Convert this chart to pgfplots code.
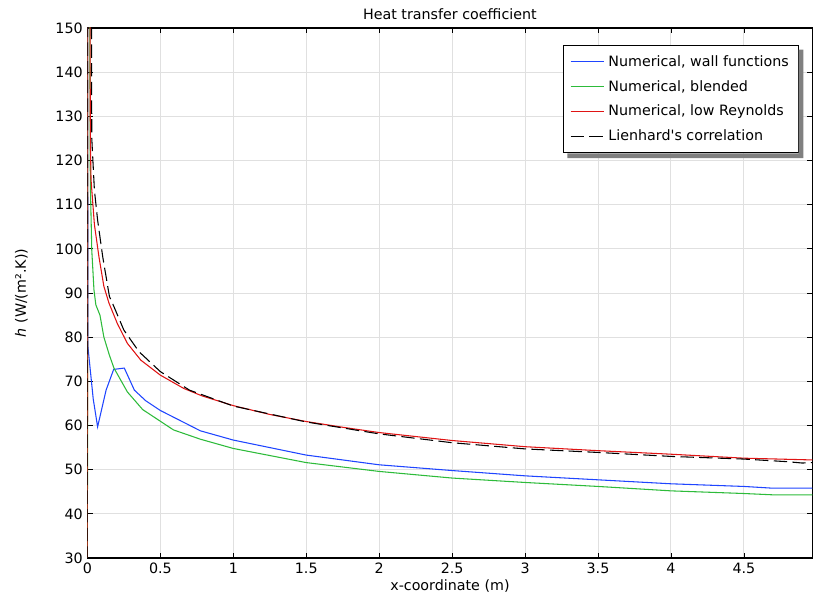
\documentclass[border=0pt]{standalone}
\usepackage{pgfplots}
\pgfplotsset{compat=1.18}
\usepackage{fontspec}
\setmainfont{DejaVu Sans}[Ligatures=TeXOff]
\definecolor{cBlue}{HTML}{1F45FF}
\definecolor{cGreen}{HTML}{2DBB3A}
\definecolor{cRed}{HTML}{E01414}

\begin{document}
\begin{tikzpicture}[x=0.75pt,y=0.75pt]
\begin{axis}[
  at={(0,0)}, anchor=south west,
  scale only axis,
  width=543.8pt, height=397.5pt,
  xmin=0, xmax=4.97, ymin=30, ymax=150,
  xtick={0,0.5,...,4.5},
  ytick={30,40,...,150},
  tick align=inside,
  major tick length=4pt,
  tick style={black, line width=0.6pt},
  axis line style={black, line width=0.9pt},
  xmajorgrids, ymajorgrids,
  grid style={draw=black!12, line width=0.7pt},
  font=\fontsize{10.7}{12.5}\selectfont,
  /pgf/number format/assume math mode=true,
  title={Heat transfer coefficient},
  title style={yshift=-3pt},
  xlabel={x-coordinate (m)},
  xlabel style={yshift=2pt},
  ylabel={\textit{h} (W/(m².K))},
  ylabel style={yshift=14pt},
  legend cell align=left,
  legend style={
    name=leg,
    at={(axis description cs:0.981,0.968)}, anchor=north east,
    draw=black, line width=0.8pt, fill=white,
    font=\fontsize{10.7}{12.5}\selectfont,
    inner xsep=5pt, inner ysep=5.5pt,
    row sep=5pt,
    /tikz/every odd column/.append style={column sep=1pt},
  },
  legend image code/.code={
    \draw[#1, line width=0.8pt] (0pt,0pt) -- (25pt,0pt);
  },
]
\addplot[cBlue, line width=0.8pt] coordinates {
 (0,200) (0.003,78) (0.04,66) (0.07,59.7) (0.128,68.0) (0.18,72.7)
 (0.253,73.0) (0.322,68.0) (0.4,65.6) (0.5,63.4) (0.774,58.8) (1.0,56.7)
 (1.5,53.3) (2.0,51.1) (2.5,49.8) (3.0,48.6) (3.5,47.7) (4.0,46.8)
 (4.5,46.2) (4.7,45.8) (4.97,45.8)
};
\addlegendentry{Numerical, wall functions}
\addplot[cGreen, line width=0.8pt] coordinates {
 (0,0) (0.003,300) (0.02,115) (0.03,99.7) (0.045,90.7) (0.058,87.3)
 (0.086,85.0) (0.113,80.0) (0.15,76.0) (0.182,73.0) (0.274,67.6)
 (0.379,63.6) (0.59,59.0) (0.774,56.9) (1.0,54.8) (1.5,51.6) (2.0,49.6)
 (2.5,48.1) (3.0,47.1) (3.5,46.2) (4.0,45.2) (4.5,44.6) (4.7,44.3)
 (4.97,44.3)
};
\addlegendentry{Numerical, blended}
\addplot[cRed, line width=0.8pt] coordinates {
 (0,0) (0.003,400) (0.02,125) (0.025,115.6) (0.048,105.5) (0.08,98.0)
 (0.113,91.5) (0.148,87.7) (0.205,83.1) (0.274,78.6) (0.366,74.8)
 (0.5,71.4) (0.66,68.4) (0.786,66.7) (1.0,64.5) (1.25,62.5) (1.5,60.9)
 (1.75,59.6) (2.0,58.4) (2.5,56.6) (3.0,55.2) (3.5,54.3) (4.0,53.5)
 (4.5,52.6) (4.97,52.2)
};
\addlegendentry{Numerical, low Reynolds}
\addplot[black, line width=0.8pt, dash pattern=on 10pt off 4pt] coordinates {
 (0,0) (0.003,500) (0.03,125) (0.048,113.3) (0.07,106.5) (0.105,98.2)
 (0.151,89.2) (0.182,86.9) (0.25,81.6) (0.354,76.7) (0.5,72.2) (0.7,68.0)
 (1.0,64.4) (1.5,60.8) (2.0,58.1) (2.5,56.1) (3.0,54.7) (3.5,53.9)
 (4.0,53.0) (4.5,52.4) (4.8,51.8) (4.9,51.5) (4.97,51.6)
};
\addlegendentry{Lienhard's correlation}
\end{axis}
% legend shadow, drawn as an L-shaped strip right of and below the box
\fill[black!50] ([yshift=-3.5pt]leg.north east) -- ([shift={(3.5pt,-3.5pt)}]leg.north east)
  -- ([shift={(3.5pt,-3.5pt)}]leg.south east) -- ([shift={(3.5pt,-3.5pt)}]leg.south west)
  -- ([xshift=3.5pt]leg.south west) -- (leg.south east) -- cycle;
\pgfresetboundingbox
\path (-87.4,-40) rectangle (725.6,558);
\end{tikzpicture}
\end{document}
